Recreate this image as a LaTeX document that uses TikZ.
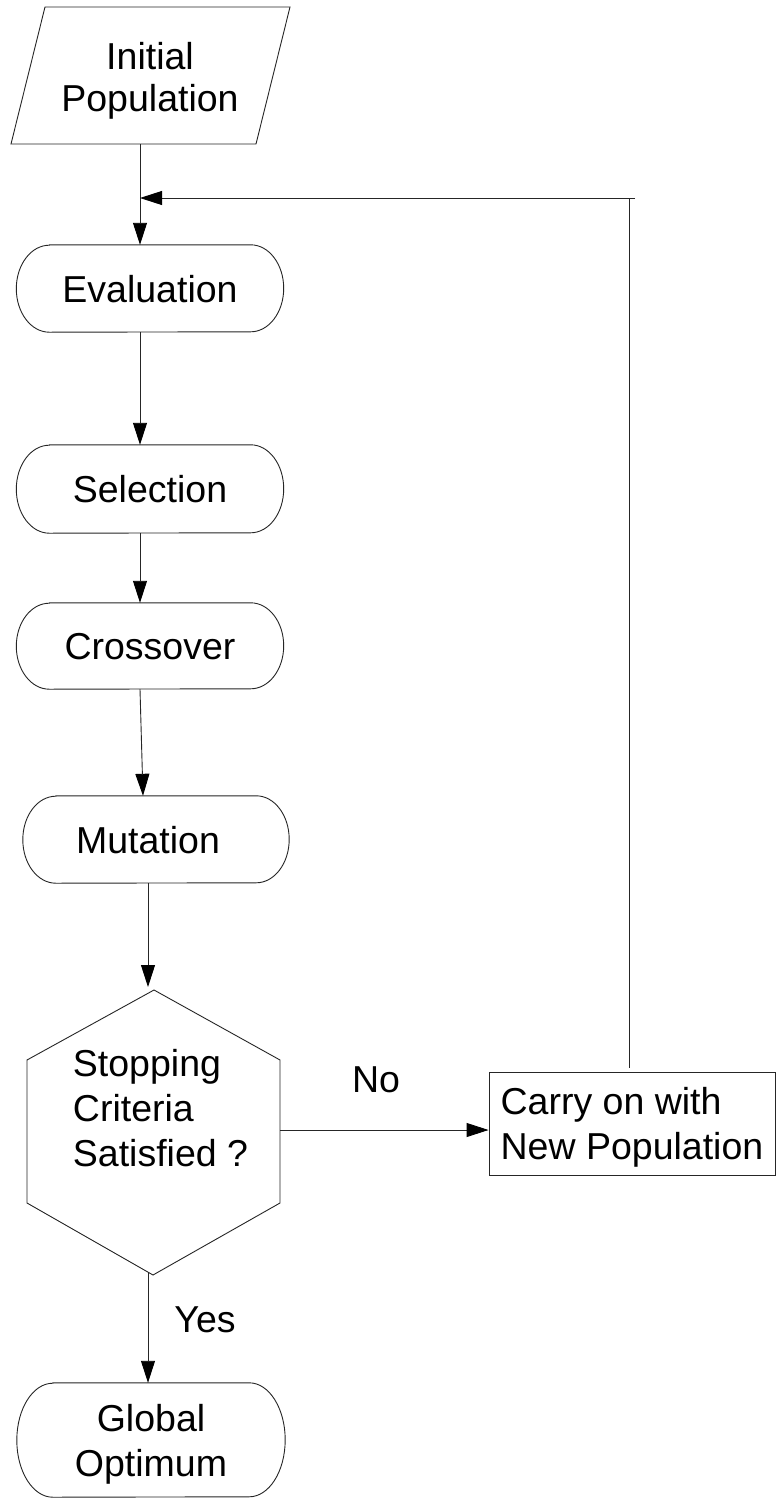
\documentclass[tikz,border=0pt]{standalone}
\usepackage{fontspec}
\setmainfont{Liberation Sans}
\usetikzlibrary{arrows.meta}
\tikzset{
  ln/.style={line width=0.9pt, draw=black!85},
  arr/.style={ln, -{Triangle[length=22pt,width=14pt,color=black,fill=black]}},
  lbl/.style={font=\fontsize{37.5}{45}\selectfont, inner sep=0pt, text depth=0pt},
  term/.style={lbl, minimum width=267pt, minimum height=88pt, align=center},
  procbox/.style={lbl, draw=black!85, line width=0.9pt, align=left, minimum width=286pt, minimum height=103pt},
}
% #1 node, #2 x radius, #3 y radius (half height)
\newcommand\termoutline[3]{%
  \draw[ln] ([xshift=#2]#1.north west) -- ([xshift=-#2]#1.north east)
    arc[start angle=90,end angle=-90,x radius=#2,y radius=#3]
    -- ([xshift=#2]#1.south west)
    arc[start angle=270,end angle=90,x radius=#2,y radius=#3] -- cycle;}
\begin{document}
\begin{tikzpicture}[x=1pt,y=-1pt]
\fill[white] (0,0) rectangle (780,1502);
\useasboundingbox (0,0) rectangle (780,1502);

% Initial population (parallelogram)
\draw[ln] (45,7) -- (290,7) -- (256,144) -- (11,144) -- cycle;
\node[lbl, align=center, font=\fontsize{37.5}{42}\selectfont] (init) at (150,77) {Initial\\Population};
\coordinate (initb) at (140,144);

% terminals
\node[term, minimum height=87pt] (eval) at (150,288.5) {Evaluation};
\termoutline{eval}{33pt}{43.5pt}
\node[term] (sel) at (150,489) {Selection};
\termoutline{sel}{33pt}{44pt}
\node[term, minimum height=86pt] (cross) at (150,646) {Crossover};
\termoutline{cross}{33pt}{43pt}
\node[term, minimum width=266pt, minimum height=87pt] (mut) at (156,839.5) {Mutation\hspace*{16pt}};
\termoutline{mut}{33pt}{43.5pt}

% decision hexagon
\coordinate (h1) at (154,990);
\coordinate (h2) at (280,1060);
\coordinate (h3) at (280,1203);
\coordinate (h4) at (153,1275);
\coordinate (h5) at (27,1203);
\coordinate (h6) at (27,1060);
\draw[ln] (h1) -- (h2) -- (h3) -- (h4) -- (h5) -- (h6) -- cycle;
\node[lbl, align=left] (hex) at (160.5,1108) {Stopping\\Criteria\\Satisfied ?};
\coordinate (hexin) at (148,987);
\coordinate (hexr) at (280,1130);
\coordinate (hexout) at (148,1272);

% carry on
\node[procbox] (carry) at (632,1123.5) {Carry on with\\New Population};

% global optimum
\node[term, minimum width=268pt, minimum height=114pt] (glob) at (151,1440) {Global\\Optimum};
\termoutline{glob}{36pt}{57pt}

% connectors
\draw[arr] (initb) -- ([xshift=-10pt]eval.north);
\draw[arr] ([xshift=-10pt]eval.south) -- ([xshift=-10pt]sel.north);
\draw[arr] ([xshift=-10pt]sel.south) -- ([xshift=-10pt]cross.north);
\draw[arr] ([xshift=-10pt]cross.south) -- ([xshift=-13pt]mut.north);
\draw[arr] ([xshift=-8pt]mut.south) -- (hexin);
\draw[arr] (hexr) -- ([yshift=-6.5pt]carry.west);
\draw[arr] (hexout) -- ([xshift=-3pt]glob.north);

% feedback loop
\coordinate (fbtop) at (629,198);
\coordinate (fbend) at (635,198);
\coordinate (fbjoin) at (140,198);
\draw[ln] ([xshift=-3pt,yshift=4pt]carry.north) -- (fbtop);
\draw[arr] (fbend) -- (fbjoin);

% labels
\node[lbl] (no) at (376,1080) {No};
\node[lbl] (yes) at (205,1320) {Yes};
\end{tikzpicture}
\end{document}
